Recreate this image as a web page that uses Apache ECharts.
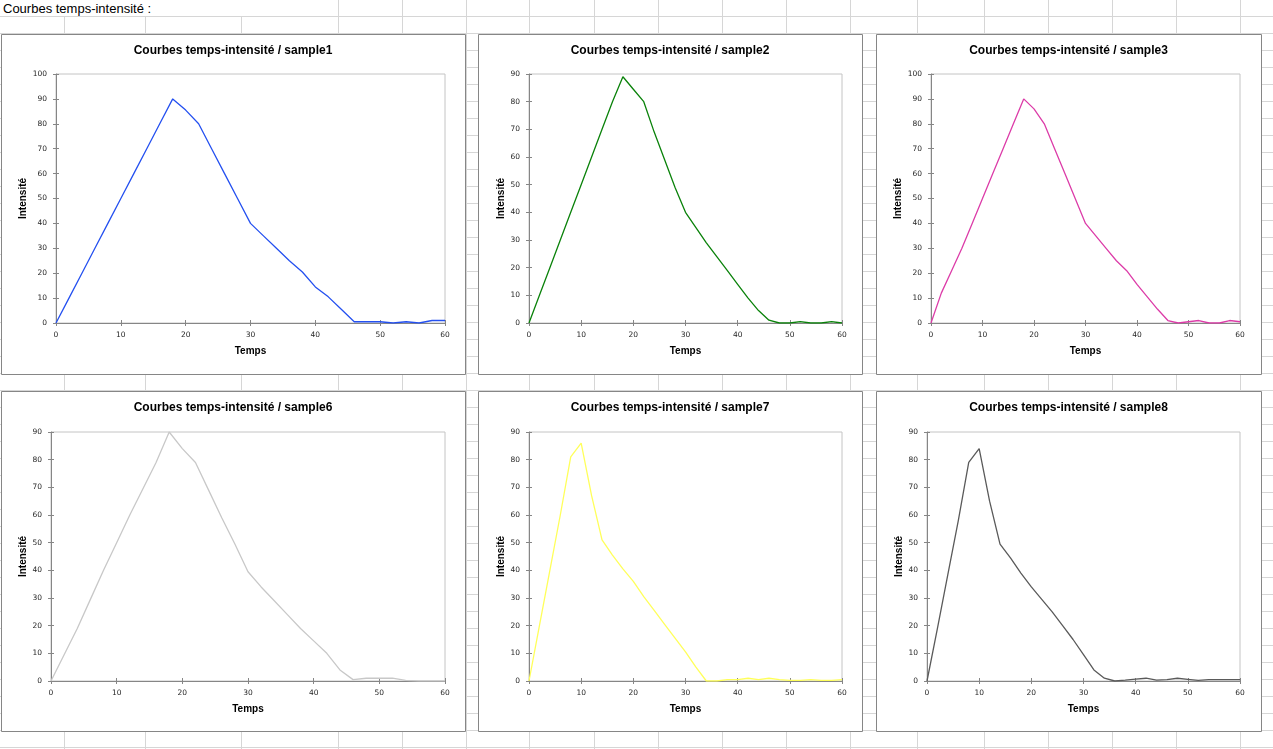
<!DOCTYPE html>
<html>
<head>
<meta charset="utf-8">
<script src="https://cdn.jsdelivr.net/npm/echarts@6/dist/echarts.min.js"></script>
<style>
  html, body { margin: 0; padding: 0; background: #fff; }
  #sheet {
    position: absolute; left: 0; top: 0; width: 1273px; height: 749px; overflow: hidden;
    background-image: repeating-linear-gradient(to bottom, transparent 0, transparent 16px, #d6d6d6 16px, #d6d6d6 17px);
  }
  .col { position: absolute; top: 0; width: 1px; height: 749px; background: #d6d6d6; }
  #cellText {
    position: absolute; left: 0; top: 0; width: 240px; height: 16px; background: #fff;
    font: 13px "Liberation Sans", Arial, sans-serif; line-height: 18px; padding-left: 3px; color: #000;
  }
  #chart { position: absolute; left: 0; top: 0; width: 1273px; height: 749px; }
</style>
</head>
<body>
<div id="sheet"></div>
<div id="cellText">Courbes temps-intensité :</div>
<div id="chart"></div>
<script>
// spreadsheet column edges (background only)
const colEdges = [64, 145, 241, 338, 402, 466, 529, 594, 658, 722, 786, 850, 917, 984, 1048, 1112, 1176, 1240];
const sheet = document.getElementById('sheet');
colEdges.forEach(x => {
  const d = document.createElement('div');
  d.className = 'col';
  d.style.left = x + 'px';
  sheet.appendChild(d);
});

// time axis (every 2 units)
const times = [0, 2, 4, 6, 8, 10, 12, 14, 16, 18, 20, 22, 24, 26, 28, 30,
               32, 34, 36, 38, 40, 42, 44, 46, 48, 50, 52, 54, 56, 58, 60];

const sample1 = [0, 10, 20, 30, 40, 50, 60, 70, 80, 90, 85.5, 80, 70, 60, 50, 40,
                 35, 30, 25, 20.5, 14.5, 10.5, 5.5, 0.5, 0.5, 0.5, 0, 0.5, 0, 1, 1];
const sample2 = [0, 10, 20, 30, 40, 50, 60, 70, 80, 89, 84.5, 80, 69, 59, 49, 40,
                 34.5, 29, 24, 19, 14, 9, 4.5, 1, 0, 0, 0.5, 0, 0, 0.5, 0];
const sample3 = [0, 12, 21, 30, 40, 50, 60, 70, 80, 90, 86, 80, 70, 60, 50, 40,
                 35, 30, 25, 21, 15.5, 10.5, 5.5, 1, 0, 0.5, 1, 0, 0, 1, 0.5];
const sample6 = [0, 9.5, 19, 29.5, 40, 50, 60, 69.5, 79, 90, 84, 79, 69, 59, 49.5, 39.5,
                 34, 29, 24, 19, 14.5, 10, 4, 0.5, 1, 1, 1, 0.2, 0, 0, 0];
const sample7 = [0, 20, 40, 60, 81, 86, 67, 51, 45.5, 40.5, 36, 30.5, 25.5, 20.5, 15.5, 10.5,
                 5, 0, 0, 0.5, 0.5, 1, 0.5, 1, 0.5, 0.2, 0.2, 0.5, 0.2, 0.2, 0.5];
const sample8 = [0, 19, 38.5, 58, 79, 84, 65, 49.5, 44.5, 39, 34, 29.5, 25, 20, 15, 9.5,
                 4, 1, 0, 0.3, 0.7, 1, 0.3, 0.5, 1, 0.6, 0.2, 0.5, 0.5, 0.5, 0.5];

const sampleNames = ['sample1', 'sample2', 'sample3', 'sample6', 'sample7', 'sample8'];
const sampleValues = [sample1, sample2, sample3, sample6, sample7, sample8];
const yMax = [100, 90, 100, 90, 90, 90];

const lineColors = ['#2450f0', '#0a820a', '#dc3ca8', '#c8c8c8', '#ffff5a', '#5a5a5a'];

// chart frames and plot areas (pixels)
const frames = [
  [1, 34, 464, 340], [478, 34, 384, 340], [876, 34, 385, 340],
  [1, 391, 464, 340], [478, 391, 384, 340], [876, 391, 385, 340]
];
const plots = [
  [56, 74, 389, 249], [529, 74, 313, 249], [931, 74, 309, 249],
  [51, 432, 394, 249], [529, 432, 313, 249], [927, 432, 313, 249]
];
const yNameGap = [28, 23, 28, 23, 23, 23];

const axisGray = '#868686';
const labelStyle = { fontFamily: 'DejaVu Sans', fontSize: 7.5, color: '#262626' };
const nameStyle = { fontFamily: 'Liberation Sans', fontSize: 10, fontWeight: 'bold', color: '#000' };

const grid = [], xAxis = [], yAxis = [], series = [], graphic = [];

sampleNames.forEach((name, i) => {
  const [fx, fy, fw, fh] = frames[i];
  const [px, py, pw, ph] = plots[i];

  graphic.push({
    type: 'rect', z: -10, silent: true,
    shape: { x: fx + 0.5, y: fy + 0.5, width: fw, height: fh },
    style: { fill: '#fff', stroke: axisGray, lineWidth: 1 }
  });
  graphic.push({
    type: 'text', z: 10, silent: true,
    x: fx + fw / 2, y: fy + 17,
    style: {
      text: 'Courbes temps-intensité / ' + name,
      font: 'bold 12px "Liberation Sans", Arial, sans-serif',
      fill: '#000', align: 'center', verticalAlign: 'middle'
    }
  });

  grid.push({ left: px, top: py, width: pw, height: ph, show: true, borderColor: '#c4c4c4', borderWidth: 1 });

  // main axes (outside ticks + labels)
  const xi = xAxis.length;
  xAxis.push({
    type: 'value', gridIndex: i, position: 'bottom', min: 0, max: 60, interval: 10,
    name: 'Temps', nameLocation: 'middle', nameGap: 23, nameTextStyle: nameStyle,
    axisLine: { show: true, onZero: false, lineStyle: { color: axisGray, width: 1 } },
    axisTick: { show: true, inside: false, length: 3, lineStyle: { color: axisGray } },
    axisLabel: Object.assign({ margin: 8 }, labelStyle),
    splitLine: { show: false }
  });
  // inside half of the crossing ticks
  xAxis.push({
    type: 'value', gridIndex: i, position: 'bottom', min: 0, max: 60, interval: 10,
    axisLine: { show: false, onZero: false },
    axisTick: { show: true, inside: true, length: 3, lineStyle: { color: axisGray } },
    axisLabel: { show: false }, splitLine: { show: false }
  });

  const yi = yAxis.length;
  yAxis.push({
    type: 'value', gridIndex: i, position: 'left', min: 0, max: yMax[i], interval: 10,
    name: 'Intensité', nameLocation: 'middle', nameGap: yNameGap[i], nameTextStyle: nameStyle,
    axisLine: { show: true, onZero: false, lineStyle: { color: axisGray, width: 1 } },
    axisTick: { show: true, inside: false, length: 3, lineStyle: { color: axisGray } },
    axisLabel: Object.assign({ margin: 9 }, labelStyle),
    splitLine: { show: false }
  });
  yAxis.push({
    type: 'value', gridIndex: i, position: 'left', min: 0, max: yMax[i], interval: 10,
    axisLine: { show: false, onZero: false },
    axisTick: { show: true, inside: true, length: 3, lineStyle: { color: axisGray } },
    axisLabel: { show: false }, splitLine: { show: false }
  });

  series.push({
    type: 'line', name: name, xAxisIndex: xi, yAxisIndex: yi,
    data: times.map((t, k) => [t, sampleValues[i][k]]),
    symbol: 'none', smooth: false,
    lineStyle: { color: lineColors[i], width: 1.3 },
    itemStyle: { color: lineColors[i] },
    z: 3
  });
});

const chart = echarts.init(document.getElementById('chart'), null, { renderer: 'canvas' });
chart.setOption({
  backgroundColor: 'transparent',
  animation: false,
  graphic: graphic,
  grid: grid,
  xAxis: xAxis,
  yAxis: yAxis,
  series: series
});
</script>
</body>
</html>
